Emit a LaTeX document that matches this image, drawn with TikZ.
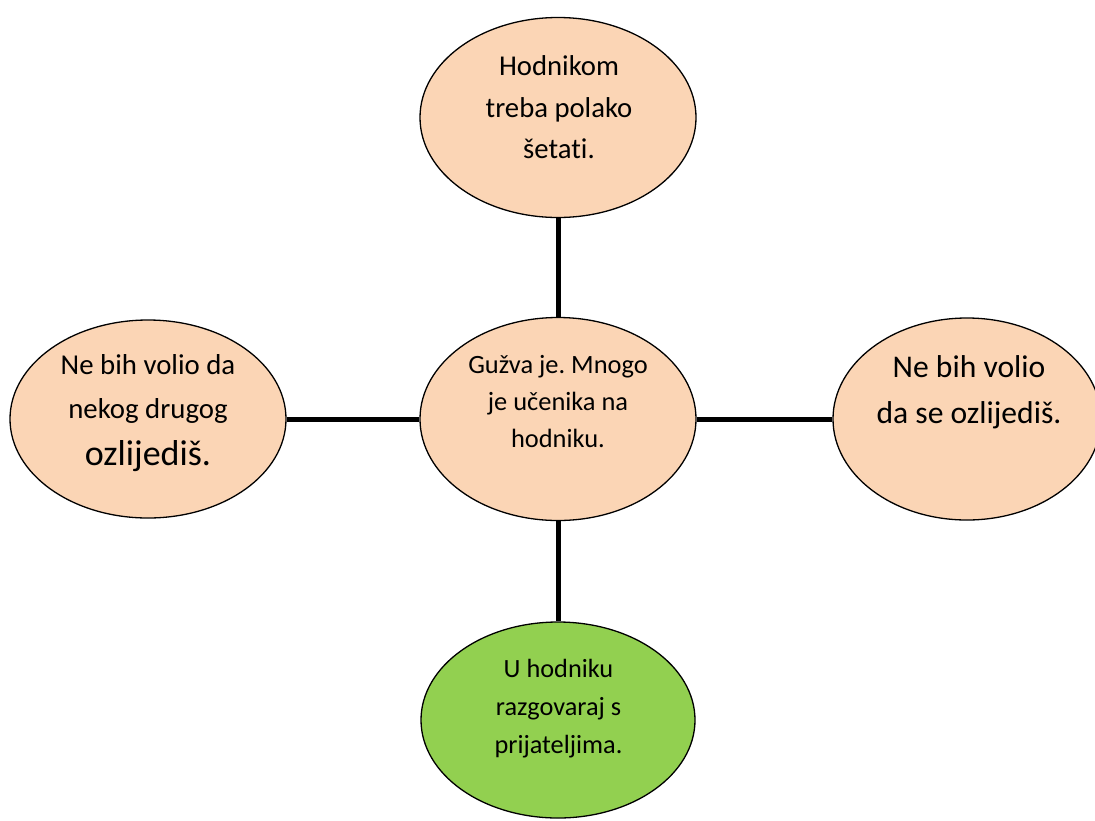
\documentclass[tikz,border=0pt]{standalone}
\usepackage{fontspec}
\setmainfont[Ligatures=NoCommon]{Carlito}
\usetikzlibrary{shapes.geometric}
\definecolor{peach}{HTML}{FBD5B5}
\definecolor{leaf}{HTML}{92D050}
\frenchspacing
\begin{document}
\frenchspacing
\begin{tikzpicture}[x=1pt,y=-1pt,
  bubble/.style={ellipse,draw=black,line width=1.3pt,fill=peach,inner sep=0pt,
    minimum width=276pt,minimum height=200pt},
  txt/.style={anchor=base,inner sep=0pt,text=black},
  link/.style={line width=5pt,draw=black}]
\useasboundingbox (0,0) rectangle (1095,820);
\node[bubble] (top) at (558,117.5) {};
\node[bubble,minimum height=203pt] (mid) at (558,419) {};
\node[bubble,minimum height=198pt] (left) at (148,419) {};
\node[bubble,minimum width=268pt,minimum height=202pt] (right) at (967,419) {};
\node[bubble,fill=leaf,minimum width=274pt,minimum height=196pt] (bot) at (558,720) {};
\draw[link] (top) -- (mid);
\draw[link] (left) -- (mid);
\draw[link] (mid) -- (right);
\draw[link] (mid) -- (bot);
% top text
\node[txt,font=\fontsize{28.7}{34}\selectfont] (t1) at (559,75) {Hodnikom};
\node[txt,font=\fontsize{28.7}{34}\selectfont] (t2) at (559,117) {treba polako};
\node[txt,font=\fontsize{28.7}{34}\selectfont] (t3) at (559,158) {šetati.};
% middle text
\node[txt,font=\fontsize{26.4}{32}\selectfont] (m1) at (558,373) {Gužva je. Mnogo};
\node[txt,font=\fontsize{26.4}{32}\selectfont] (m2) at (558,410) {je učenika na};
\node[txt,font=\fontsize{26.4}{32}\selectfont] (m3) at (558,447) {hodniku.};
% left text
\node[txt,font=\fontsize{28.8}{34}\selectfont] (l1) at (148,374) {Ne bih volio da};
\node[txt,font=\fontsize{28.8}{34}\selectfont] (l2) at (148,418) {nekog drugog};
\node[txt,font=\fontsize{36}{42}\selectfont] (l3) at (148,465) {ozlijediš.};
% right text
\node[txt,font=\fontsize{31.6}{38}\selectfont] (r1) at (969,377) {Ne bih volio};
\node[txt,font=\fontsize{31.6}{38}\selectfont] (r2) at (969,423) {da se ozlijediš.};
% bottom text
\node[txt,font=\fontsize{26.3}{32}\selectfont] (b1) at (558.5,677) {U hodniku};
\node[txt,font=\fontsize{26.3}{32}\selectfont] (b2) at (558.5,715) {razgovaraj s};
\node[txt,font=\fontsize{26.3}{32}\selectfont] (b3) at (558.5,753) {prijateljima.};
\end{tikzpicture}
\end{document}
